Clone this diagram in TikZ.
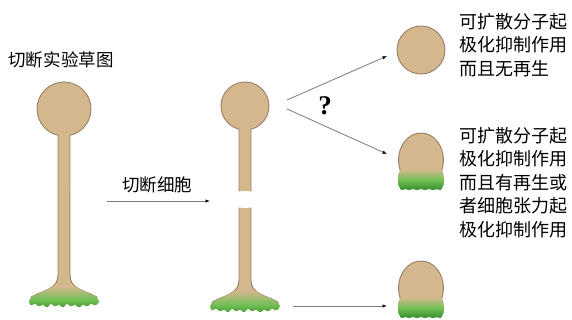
\documentclass[tikz,border=0pt]{standalone}
\usepackage{fontspec}
\newfontfamily\cjk{Noto Sans CJK SC}
\newfontfamily\qfont{Liberation Serif}
\usetikzlibrary{arrows.meta}
\definecolor{cellfill}{RGB}{213,183,142}
\definecolor{cellline}{RGB}{150,128,104}
\definecolor{grassdark}{RGB}{45,135,40}
\definecolor{grasslight}{RGB}{115,192,85}
\definecolor{arrowgray}{RGB}{128,120,118}
% ragged green rims: x / y offsets, right to left
\newcommand\jagfoot{35/1,31/5,27/2,23/6,19/3,15/7,11/3,7/6,3/2,-1/7,-5/3,-9/6,-13/2,-17/7,-21/3,-25/6,-29/2,-33/5,-35/1}
\newcommand\jagegg{22/27,19/31,16/28,12/31,8/28,4/31,0/28,-4/31,-8/28,-12/31,-16/28,-19/31,-22/27}
% whole cell: head, stalk and foot (#1 head radius, #2 head to foot)
\newcommand\stalkpath[2]{(-6,{sqrt(#1*#1-36)})
  arc[start angle={90+asin(6/#1)}, end angle={450-asin(6/#1)}, radius=#1]
  -- (6,#2-30) .. controls (6,#2-16) and (20,#2-15) .. (33,#2-8) -- (35,#2-3)
  [rounded corners=1.5pt] foreach \dx/\dy in \jagfoot {-- (\dx,{#2+\dy-4})}
  -- (-35,#2-3) [sharp corners] -- (-33,#2-8) .. controls (-20,#2-15) and (-6,#2-16) .. (-6,#2-30) -- cycle}
\tikzset{
    cell/.style ={draw=cellline, line width=0.9pt},
    grass/.style ={top color=cellfill, bottom color=grassdark, middle color=grasslight},
    link/.style ={draw=arrowgray, line width=0.8pt, -{Latex[length=4.5pt,width=3.5pt,color=black]}},
    note/.style ={font=\cjk\fontsize{18}{23.5}\selectfont, align=left, inner sep=0pt, anchor=north west},
    label/.style ={font=\cjk\fontsize{17.5}{20}\selectfont, inner sep=0pt},
    pics/stalkcell/.style 2 args={code={
        \fill[cellfill] \stalkpath{#1}{#2};
        \draw[cell] (-33,#2-8) .. controls (-20,#2-15) and (-6,#2-16) .. (-6,#2-30)
            -- (-6,{sqrt(#1*#1-36)})
            arc[start angle={90+asin(6/#1)}, end angle={450-asin(6/#1)}, radius=#1]
            -- (6,#2-30) .. controls (6,#2-16) and (20,#2-15) .. (33,#2-8);
        \begin{scope}
            \clip \stalkpath{#1}{#2};
            \shade[grass] (-40,#2-19) rectangle (40,#2+8);
        \end{scope}
    }},
    pics/regrown/.style={code={
        \filldraw[cell, fill=cellfill] (0,0) ellipse[x radius=22.5, y radius=27];
        \shade[grass, rounded corners=2pt] (21,9) -- (23,17) -- (23,23)
            foreach \dx/\dy in \jagegg {-- (\dx,\dy)} -- (-23,23) -- (-23,17) -- (-21,9) -- cycle;
    }}}

\begin{document}
\begin{tikzpicture}[x=1pt, y=-1pt]
    \useasboundingbox (0,0) rectangle (572,320);
    % cells
    \pic at (64,109) {stalkcell={27}{196}};
    \pic at (245,106) {stalkcell={24}{204}};
    \fill[white] (232,192) -- (245,191) -- (258,192) -- (258,207) -- (245,208) -- (232,207) -- cycle;
    \filldraw[cell, fill=cellfill] (421,50) circle[radius=24];
    \pic at (421,160) {regrown};
    \pic at (421,288) {regrown};
    % arrow ends
    \coordinate (cutA) at (107,201);
    \coordinate (cutB) at (210,201);
    \coordinate (fork) at (287,100);
    \coordinate (fork2) at (287,109);
    \coordinate (headT) at (387,56);
    \coordinate (headM) at (387,154);
    \coordinate (footM) at (293,306);
    \coordinate (headB) at (387,306);
    \draw[link] (cutA) -- (cutB);
    \draw[link] (fork) -- (headT);
    \draw[link] (fork2) -- (headM);
    \draw[link] (footM) -- (headB);
    % texts
    \node[label] (title) at (61,60) {切断实验草图};
    \node[label] (cut) at (157,185) {切断细胞};
    \node[font=\qfont\bfseries\fontsize{27}{30}\selectfont, inner sep=0pt] (ask) at (325,106) {?};
    \node[note] (noteT) at (459,13) {可扩散分子起\\极化抑制作用\\而且无再生};
    \node[note] (noteM) at (459,127) {可扩散分子起\\极化抑制作用\\而且有再生或\\者细胞张力起\\极化抑制作用};
\end{tikzpicture}
\end{document}
